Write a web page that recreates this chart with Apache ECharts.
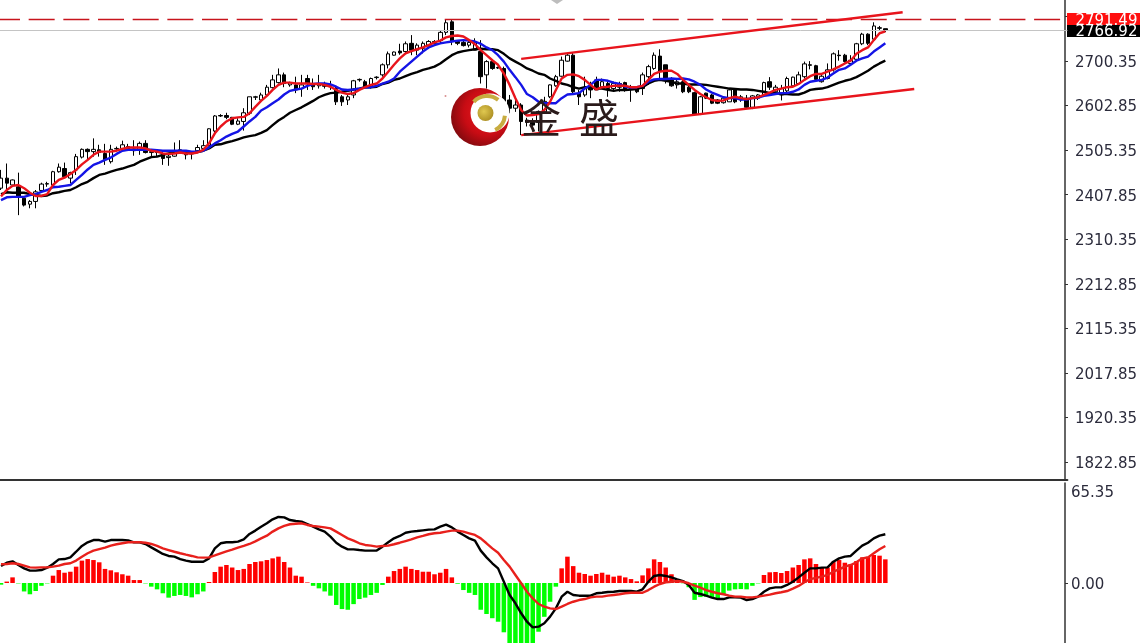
<!DOCTYPE html>
<html><head><meta charset="utf-8">
<style>html,body{margin:0;padding:0;background:#fff}#c{width:1140px;height:643px}</style>
<script src="https://cdn.jsdelivr.net/npm/echarts@6/dist/echarts.min.js"></script>
</head><body><div id="c"></div>
<script>
const opens=[2422,2444,2429,2425,2400,2387,2393,2417,2431,2429,
2458,2465,2444,2462,2490,2507,2502,2506,2498,2480,
2508,2509,2513,2508,2506,2520,2500,2502,2497,2489,
2492,2506,2498,2498,2504,2509,2515,2547,2581,2581,
2577,2562,2568,2586,2621,2615,2626,2642,2653,2670,
2648,2648,2640,2662,2651,2646,2650,2648,2640,2622,
2615,2626,2659,2655,2643,2664,2670,2692,2713,2722,
2721,2739,2724,2728,2735,2743,2745,2763,2786,2743,
2741,2735,2724,2721,2670,2699,2686,2684,2615,2597,
2604,2571,2566,2566,2589,2622,2646,2667,2700,2713,
2630,2626,2643,2659,2644,2651,2640,2651,2653,2640,
2640,2640,2666,2684,2711,2692,2662,2648,2655,2643,
2631,2584,2630,2626,2615,2609,2611,2638,2615,2619,
2599,2619,2626,2655,2633,2626,2635,2646,2651,2666,
2692,2690,2655,2662,2681,2713,2713,2695,2704,2738,
2759,2748,2773,2771];
const closes=[2444,2433,2440,2404,2385,2393,2414,2431,2432,2458,
2468,2447,2456,2491,2507,2502,2507,2500,2484,2507,
2509,2517,2508,2504,2520,2500,2502,2500,2487,2492,
2500,2502,2495,2497,2511,2515,2552,2580,2580,2577,
2562,2569,2587,2622,2622,2626,2643,2659,2670,2651,
2653,2637,2648,2651,2644,2651,2645,2646,2611,2611,
2622,2657,2660,2643,2662,2665,2692,2716,2720,2718,
2738,2724,2735,2739,2743,2739,2763,2784,2743,2739,
2734,2741,2741,2666,2699,2684,2685,2611,2597,2604,
2568,2566,2560,2590,2612,2648,2666,2702,2713,2633,
2622,2640,2637,2637,2655,2640,2651,2643,2637,2639,
2633,2670,2688,2713,2677,2659,2646,2655,2633,2633,
2584,2622,2619,2608,2608,2619,2637,2611,2622,2599,
2624,2626,2653,2643,2643,2640,2662,2665,2670,2694,
2691,2660,2667,2681,2716,2712,2699,2702,2738,2759,
2739,2777,2772,2767];
const lows=[2418,2411,2427,2363,2382,2378,2378,2414,2425,2427,
2456,2444,2433,2451,2487,2484,2491,2491,2473,2476,
2506,2506,2506,2493,2495,2498,2490,2490,2473,2471,
2491,2498,2485,2485,2502,2506,2513,2543,2578,2573,
2560,2560,2548,2582,2615,2611,2622,2640,2651,2643,
2644,2630,2622,2637,2637,2640,2640,2637,2604,2602,
2604,2619,2655,2640,2640,2660,2666,2684,2712,2714,
2717,2713,2713,2717,2732,2735,2739,2757,2735,2735,
2732,2730,2724,2651,2640,2681,2683,2611,2586,2589,
2538,2557,2546,2546,2586,2619,2644,2666,2699,2630,
2604,2622,2619,2637,2640,2622,2633,2633,2633,2611,
2630,2626,2648,2681,2659,2651,2644,2640,2630,2630,
2584,2582,2617,2606,2606,2607,2611,2608,2611,2597,
2595,2615,2624,2637,2630,2614,2630,2644,2651,2662,
2682,2659,2653,2660,2677,2701,2697,2691,2702,2735,
2735,2746,2768,2764];
const highs=[2462,2476,2441,2456,2404,2396,2418,2434,2436,2460,
2476,2478,2458,2497,2509,2509,2531,2517,2519,2517,
2513,2526,2519,2527,2524,2527,2506,2502,2502,2498,
2522,2527,2504,2502,2517,2527,2553,2582,2584,2587,
2578,2575,2597,2622,2624,2631,2648,2670,2684,2675,
2655,2666,2670,2670,2662,2670,2655,2657,2645,2626,
2626,2659,2662,2659,2664,2667,2695,2721,2721,2738,
2743,2757,2739,2743,2746,2746,2768,2790,2790,2746,
2745,2746,2750,2746,2702,2702,2688,2688,2626,2619,
2608,2576,2575,2592,2622,2649,2670,2710,2717,2719,
2637,2666,2655,2666,2662,2655,2655,2655,2655,2648,
2644,2675,2692,2719,2726,2692,2665,2659,2662,2648,
2633,2624,2631,2628,2617,2622,2640,2640,2626,2626,
2626,2628,2655,2665,2648,2648,2666,2666,2677,2699,
2700,2692,2672,2695,2719,2724,2716,2713,2740,2762,
2761,2785,2777,2771];
const maFast=[2404,2418,2427,2429,2422,2412,2405,2405,2409,2429,
2440,2445,2453,2462,2474,2484,2495,2502,2502,2502,
2504,2508,2511,2511,2511,2509,2504,2502,2498,2497,
2498,2500,2498,2498,2500,2506,2520,2542,2557,2568,
2575,2577,2578,2586,2600,2613,2624,2637,2648,2653,
2653,2651,2651,2651,2650,2650,2648,2644,2637,2631,
2628,2630,2637,2643,2648,2651,2662,2677,2692,2706,
2717,2722,2726,2730,2735,2741,2745,2752,2755,2756,
2754,2746,2737,2724,2713,2702,2692,2673,2648,2619,
2593,2581,2582,2584,2593,2611,2637,2662,2670,2671,
2667,2659,2648,2638,2643,2644,2646,2646,2646,2643,
2643,2646,2659,2672,2677,2679,2679,2672,2659,2648,
2637,2628,2621,2615,2613,2614,2619,2622,2619,2617,
2619,2621,2626,2631,2637,2640,2643,2644,2650,2659,
2667,2672,2672,2677,2682,2688,2695,2701,2716,2724,
2730,2746,2761,2765];
const maMid=[2396,2402,2403,2403,2403,2407,2409,2414,2418,2424,
2425,2427,2429,2440,2451,2463,2473,2478,2484,2489,
2497,2504,2506,2506,2506,2506,2506,2505,2504,2504,
2504,2504,2504,2502,2502,2504,2511,2520,2527,2535,
2541,2546,2557,2568,2578,2592,2599,2608,2616,2627,
2635,2638,2640,2646,2650,2651,2651,2649,2644,2638,
2637,2638,2640,2642,2643,2646,2651,2655,2662,2677,
2688,2699,2710,2721,2730,2735,2739,2741,2743,2745,
2746,2745,2743,2738,2730,2724,2713,2699,2681,2665,
2648,2628,2621,2611,2608,2608,2608,2619,2627,2628,
2630,2640,2648,2659,2659,2657,2653,2650,2644,2642,
2643,2646,2655,2660,2661,2661,2662,2661,2662,2660,
2655,2648,2638,2631,2626,2621,2619,2619,2616,2616,
2619,2620,2624,2626,2628,2630,2630,2633,2638,2648,
2655,2657,2659,2664,2673,2681,2684,2692,2701,2706,
2710,2721,2730,2739];
const maSlow=[2409,2413,2412,2412,2412,2409,2407,2405,2406,2411,
2413,2416,2418,2424,2431,2436,2444,2451,2454,2458,
2462,2465,2469,2473,2480,2485,2490,2491,2495,2498,
2500,2500,2500,2501,2501,2504,2509,2517,2518,2522,
2525,2529,2533,2536,2538,2543,2549,2560,2570,2578,
2587,2593,2599,2606,2613,2621,2626,2630,2631,2633,
2635,2638,2640,2643,2643,2644,2650,2653,2659,2662,
2667,2672,2676,2681,2684,2688,2695,2704,2713,2719,
2722,2724,2726,2727,2726,2726,2724,2716,2706,2699,
2692,2684,2679,2673,2670,2662,2657,2651,2648,2643,
2640,2643,2643,2640,2640,2637,2635,2637,2637,2638,
2639,2643,2651,2657,2659,2657,2655,2651,2651,2649,
2649,2649,2648,2646,2644,2642,2640,2639,2638,2638,
2637,2635,2633,2630,2630,2628,2628,2627,2627,2631,
2637,2639,2640,2643,2648,2653,2657,2660,2665,2672,
2679,2688,2695,2701];
const macdHist=[-1.2,1,4,-0.3,-6,-8,-5.7,-2,-0.3,5.2,
9.2,7.3,8,11.6,15.9,17,16.3,14.7,10,9,
7.6,6.2,5.2,2.1,2.1,-0.3,-2.6,-4.5,-7.3,-10.4,
-9.2,-8.5,-9.2,-10.2,-8,-6,0.7,7.8,11.6,12.8,
11,9.2,10,13.5,14.9,15.4,16.3,17.5,18.7,14.9,
11,5.2,4.5,0.4,-2,-3.8,-6,-9,-15.6,-18.5,
-19,-15,-11.4,-10.4,-8.5,-7,-1.4,4.5,8.5,10,
11.6,10,9.2,8,8,6.2,7.3,10,4,-0.5,
-5,-7,-8.5,-19,-22,-25,-27.5,-35,-47,-50,
-52,-50,-45,-34.6,-24,-13.3,-2.6,10.4,18.7,12,
7.3,6.4,5.2,6.4,7.3,5.9,4.5,5.2,4,2.8,
1.2,5.4,10.4,16.8,14.9,11,6.2,2.1,-0.2,-3,
-12,-10,-9.7,-10,-11,-8.5,-5.4,-4.5,-4.3,-4.5,
-2,-0.3,5.7,7.6,7.8,7.1,8.5,11,12.8,16.8,
17.5,13.5,11,11,15.1,16.3,14.4,13.3,15.6,18.2,
18.7,19.9,19.4,16.8];
const macdLine=[12.1,14.4,15.4,12.8,10.4,8.8,8.8,9.2,10.9,13.5,
16.8,17,18.2,22.2,26.3,28.9,30.5,30.5,29.4,30.5,
30.5,30.5,30.3,28.9,28.9,27.7,25.3,23,20.6,19.2,
18.7,17,15.9,15.1,15.1,15.1,17.5,24.6,28.2,28.9,
28.9,29.4,31,34.8,37.2,40,42.4,45.2,46.9,46.6,
44.7,44,43.6,41.9,40,38.1,36.5,32.9,28.6,25.8,
23.9,23.9,23.4,23,23,23,25.8,28.9,31.7,33.4,
35.7,36.5,36.9,37.4,37.9,38.1,40,41.4,39.5,36.5,
34.1,31.7,30.1,23,18.2,14,10.4,0.9,-8.5,-14.4,
-21.5,-27.5,-31.5,-31,-28.6,-23.9,-18,-9.7,-6.2,-8.5,
-9,-9,-9,-7.3,-6.9,-6.4,-6.2,-5.7,-5.7,-5.7,
-6.2,-4.5,0.9,5,5.7,5,4,2.6,1.4,-1.4,
-6.9,-7.8,-9,-10.4,-11.4,-11.4,-10.2,-10.2,-10.4,-12.1,
-11.4,-9.7,-6.2,-3.8,-3.1,-3.1,-1.4,0.9,4,7.3,
10.4,10.4,10.9,11.1,15.1,17.5,18.7,19.2,23,26.5,
28.6,31.7,33.6,34.6];
const macdSignal=[13.3,13.5,14,13.5,12.3,11.1,10.9,11.1,11.1,11.6,
12.3,13.5,14,15.9,18.7,21.1,23,24.1,25.1,26.5,
27.5,28.2,28.9,28.9,28.9,28.6,27.7,26.3,24.6,23.4,
22.2,21.1,20.1,19.2,18.2,18,18.2,19.6,21.1,22.5,
23.7,25.1,26.3,27.7,29.6,31.7,33.6,36.5,38.8,40.5,
41.7,42.1,42.4,41.2,40.5,40,39.5,38.8,36.5,34.1,
31.7,30.1,28.2,27,26.5,25.8,26.3,26.5,27.5,28.6,
29.8,31,32.4,33.4,34.6,35.3,35.7,36.5,37.2,37.2,
36.5,35.3,34.1,31.7,28.2,24.6,21.5,16.3,11.6,5.7,
-0.2,-6.2,-10.9,-14.9,-16.8,-18,-18.5,-16.8,-14.9,-13.3,
-12.1,-11.4,-10.2,-9.7,-9.7,-9,-8.5,-8,-7.3,-6.9,
-6.9,-6.9,-5,-2.6,-0.7,0.5,0.9,1.4,0.9,-0.2,
-1.9,-3.3,-5,-6.2,-7.3,-8,-9,-9.7,-9.7,-10.2,
-10.2,-9.7,-9,-8.3,-7.3,-6.6,-5.7,-4,-2.1,0.5,
2.8,3.6,4.5,5.7,8,9.7,11.6,12.8,14.7,17.5,
18.2,21.1,23.9,26.3];
const priceTicks=[1822.85,1920.35,2017.85,2115.35,2212.85,2310.35,2407.85,2505.35,2602.85,2700.35,2797.85];
const priceLabels=[1822.85,1920.35,2017.85,2115.35,2212.85,2310.35,2407.85,2505.35,2602.85,2700.35];
const macdTicks=[0,65.35];
const lastPrice=2766.92, topPrice=2791.49;
const channelTop=[[90,2705],[156,2807]];
const channelBottom=[[90,2538],[158,2639]];
const slotCount=185;
const categories=[];for(let i=0;i<slotCount;i++)categories.push(String(i));

const candles=opens.map((o,i)=>[o,closes[i],lows[i],highs[i]]);
const labelFont={fontFamily:'DejaVu Sans',fontSize:15,color:'#2b2b3b',verticalAlign:'top',lineHeight:4};
const chart=echarts.init(document.getElementById('c'),null,{renderer:'canvas'});
const lineS=(name,data,color,xi)=>({name,type:'line',data,xAxisIndex:xi,yAxisIndex:xi,symbol:'none',
  lineStyle:{color,width:2.4},itemStyle:{color},z:5,silent:true,animation:false});
const tag=v=>({show:true,position:'end',distance:8,formatter:v.toFixed(2),fontFamily:'DejaVu Sans',fontSize:15,color:'#fff',verticalAlign:'top',lineHeight:4});
chart.setOption({
  animation:false,backgroundColor:'#fff',
  grid:[{left:-1.9,width:1069.3,top:0,height:480,outerBoundsMode:'none'},{left:-1.9,width:1069.3,top:483,height:160,outerBoundsMode:'none'}],
  xAxis:[
    {type:'category',data:categories,gridIndex:0,boundaryGap:true,axisTick:{show:false},axisLabel:{show:false},splitLine:{show:false},
     axisLine:{show:true,lineStyle:{color:'#333',width:2}}},
    {type:'category',data:categories,gridIndex:1,boundaryGap:true,axisTick:{show:false},axisLabel:{show:false},splitLine:{show:false},axisLine:{show:false}}
  ],
  yAxis:[
    {type:'value',gridIndex:0,position:'right',offset:-2.4,min:1783.4,max:2833.8,scale:true,splitLine:{show:false},
     axisLine:{show:true,lineStyle:{color:'#333',width:1.5}},
     axisTick:{show:true,length:3,lineStyle:{color:'#333'},customValues:priceTicks},
     axisLabel:{...labelFont,margin:10,customValues:priceLabels,formatter:v=>v.toFixed(2),hideOverlap:false,showMinLabel:true,showMaxLabel:true}},
    {type:'value',gridIndex:1,position:'right',offset:-2.4,min:-42.6,max:71,scale:true,splitLine:{show:false},
     axisLine:{show:true,lineStyle:{color:'#333',width:1.5}},
     axisTick:{show:true,length:3,lineStyle:{color:'#333'},customValues:[0]},
     axisLabel:{...labelFont,margin:6,customValues:macdTicks,formatter:v=>v.toFixed(2)}}
  ],
  series:[
    {name:'Price',type:'candlestick',data:candles,xAxisIndex:0,yAxisIndex:0,barWidth:4,silent:true,z:3,
     itemStyle:{color:'#fff',color0:'#000',borderColor:'#000',borderColor0:'#000',borderWidth:1},
     markLine:{silent:true,symbol:'none',animation:false,precision:2,
      data:[
       {yAxis:topPrice,lineStyle:{color:'#c8141c',type:[26,8.67],dashOffset:4.1,width:1.3},label:tag(topPrice)},
       {yAxis:lastPrice,lineStyle:{color:'#c4c4c4',type:'solid',width:1},label:tag(lastPrice)}
      ]}},
    lineS('MA slow',maSlow,'#000',0),
    lineS('MA mid',maMid,'#1414e6',0),
    lineS('MA fast',maFast,'#e8141c',0),
    lineS('Channel top',channelTop,'#e8141c',0),
    lineS('Channel bottom',channelBottom,'#e8141c',0),
    {name:'MACD hist',type:'bar',data:macdHist,xAxisIndex:1,yAxisIndex:1,barWidth:4.5,silent:true,
     itemStyle:{color:p=>p.value>=0?'#ff0000':'#00ff00'}},
    lineS('MACD',macdLine,'#000',1),
    lineS('Signal',macdSignal,'#e8201c',1)
  ],
  graphic:[
    {type:'rect',z:1,shape:{x:1067,y:13,width:73,height:12},style:{fill:'#ff0f0f'}},
    {type:'rect',z:1,shape:{x:1067,y:25,width:73,height:12},style:{fill:'#000'}},
    {type:'polygon',z:50,shape:{points:[[551,0],[563,0],[557,4]]},style:{fill:'#bdbdbd'}},
    {type:'circle',z:50,shape:{cx:445.5,cy:96,r:1},style:{fill:'#d89090'}},
    {type:'circle',z:50,shape:{cx:480,cy:117,r:29},style:{fill:{type:'radial',x:0.62,y:0.42,r:0.66,colorStops:[{offset:0,color:'#f01a20'},{offset:0.6,color:'#c80c14'},{offset:1,color:'#7e0a0e'}]}}},
    {type:'circle',z:51,shape:{cx:490,cy:113,r:19.5},style:{fill:'#fff'}},
    {type:'circle',z:52,shape:{cx:485.5,cy:113,r:8},style:{fill:{type:'radial',x:0.4,y:0.4,r:0.7,colorStops:[{offset:0,color:'#e0c850'},{offset:1,color:'#a88a20'}]}}},
    {type:'sector',z:52,shape:{cx:487,cy:114,r:20,r0:16,startAngle:-2.4,endAngle:-0.9},style:{fill:'#c8ac40'}},
    {type:'sector',z:52,shape:{cx:487,cy:114,r:20,r0:16,startAngle:0.1,endAngle:1.1},style:{fill:'#c8ac40'}},
    {type:'text',z:60,style:{x:541,y:118,text:'金',fill:'#2a1a1a',font:'40px "Noto Sans CJK SC"',textAlign:'center',textVerticalAlign:'middle'}},
    {type:'text',z:60,style:{x:599,y:118,text:'盛',fill:'#2a1a1a',font:'40px "Noto Sans CJK SC"',textAlign:'center',textVerticalAlign:'middle'}}
  ]
});
</script></body></html>
